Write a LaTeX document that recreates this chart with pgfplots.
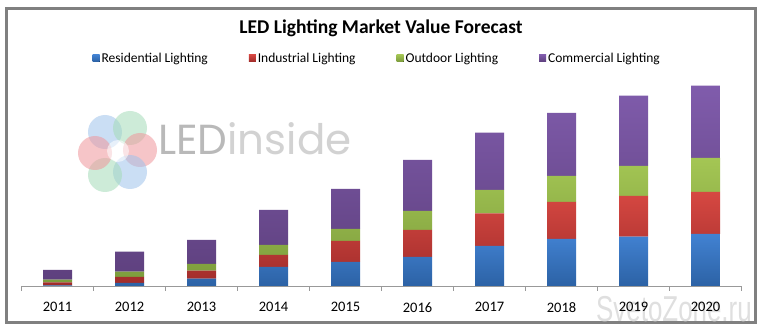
\documentclass[border=0pt]{standalone}
\usepackage{pgfplots}
\pgfplotsset{compat=1.18}
\usepackage{fontspec}
\setmainfont{Carlito}
\newfontfamily\wmfont{Poppins}
\newfontfamily\svfont{Liberation Sans}
\definecolor{bluetop}{RGB}{66,130,210}
\definecolor{bluebot}{RGB}{44,98,165}
\definecolor{redtop}{RGB}{214,72,66}
\definecolor{redbot}{RGB}{160,44,42}
\definecolor{greentop}{RGB}{164,198,84}
\definecolor{greenbot}{RGB}{124,156,60}
\definecolor{purptop}{RGB}{128,92,172}
\definecolor{purpbot}{RGB}{94,64,126}
\definecolor{framegray}{RGB}{128,128,128}
\definecolor{wmblue}{RGB}{160,195,235}
\definecolor{wmgreen}{RGB}{165,220,185}
\definecolor{wmred}{RGB}{240,150,155}

\pgfplotstableread{
x res ind out com
0 0.7 3.0 2.6 9.7
1 3.0 6.0 5.3 20.0
2 7.3 8.0 6.7 24.0
3 19.0 12.0 10.0 35.0
4 24.0 21.0 12.0 40.0
5 29.0 27.0 19.0 51.0
6 40.0 32.7 23.3 57.3
7 47.0 37.0 26.0 63.0
8 49.3 40.7 30.0 70.3
9 52.0 42.0 34.0 72.3
}\ledtable

\begin{document}
\begin{tikzpicture}[x=1pt,y=1pt]
\useasboundingbox (0,0) rectangle (764,335);
\fill[white] (0,0) rectangle (764,335);
\draw[line width=3pt, framegray] (6.5,326.5) rectangle (755.5,12.5);
% watermark logo
\begin{scope}[opacity=0.55]
\fill[wmblue] (105,203) circle (17);
\fill[wmgreen] (130,207) circle (17);
\fill[wmred] (140,185) circle (17);
\fill[wmblue] (130,163) circle (17);
\fill[wmgreen] (105,160) circle (17);
\fill[wmred] (95,182) circle (17);
\fill[white] (118,184) circle (11);
\end{scope}
\node[anchor=base west, inner sep=0pt, text=gray!55, font={\wmfont\fontsize{42}{42}\selectfont}] at (158,180) {LED\textcolor{gray!35}{inside}};
% SvetoZone watermark, faint, drawn behind the chart texts
\node[anchor=base west, inner sep=0pt, xscale=0.72, text=gray!25, font={\svfont\fontsize{36}{36}\selectfont}] at (596,13) {SvetoZone.ru};
\node[font={\bfseries\fontsize{19.5}{21}\selectfont}] at (381,307) {LED Lighting Market Value Forecast};
\begin{axis}[
  at={(21.5pt,49pt)}, anchor=south west,
  scale only axis, width=720pt, height=230pt,
  xmin=-0.5, xmax=9.5, ymin=0, ymax=230,
  ybar stacked, bar width=29pt,
  axis x line=bottom, axis y line=none,
  axis line style={-, gray!80},
  xtick={0,...,9},
  xticklabels={2011,2012,2013,2014,2015,2016,2017,2018,2019,2020},
  major tick length=0pt,
  minor xtick={-0.5,0.5,...,9.5},
  minor tick length=5pt,
  tick align=outside,
  minor tick style={gray!80},
  xticklabel style={font=\fontsize{14.5}{16}\selectfont, yshift=-13pt},
  legend columns=4,
  legend style={at={(0.494,0.991)}, anchor=center, draw=none, fill=none,
    font=\fontsize{13.5}{15}\selectfont, inner sep=0pt,
    /tikz/every even column/.append style={column sep=39pt}},
  legend image code/.code={\fill[#1] (0pt,-3.5pt) rectangle (7pt,3.5pt);},
  clip=false,
]
\addplot[draw=none, top color=bluetop, bottom color=bluebot] table[x=x,y=res]{\ledtable};
\addlegendentry{Residential Lighting}
\addplot[draw=none, top color=redtop, bottom color=redbot] table[x=x,y=ind]{\ledtable};
\addlegendentry{Industrial Lighting}
\addplot[draw=none, top color=greentop, bottom color=greenbot] table[x=x,y=out]{\ledtable};
\addlegendentry{Outdoor Lighting}
\addplot[draw=none, top color=purptop, bottom color=purpbot] table[x=x,y=com]{\ledtable};
\addlegendentry{Commercial Lighting}
\end{axis}
\end{tikzpicture}
\end{document}
